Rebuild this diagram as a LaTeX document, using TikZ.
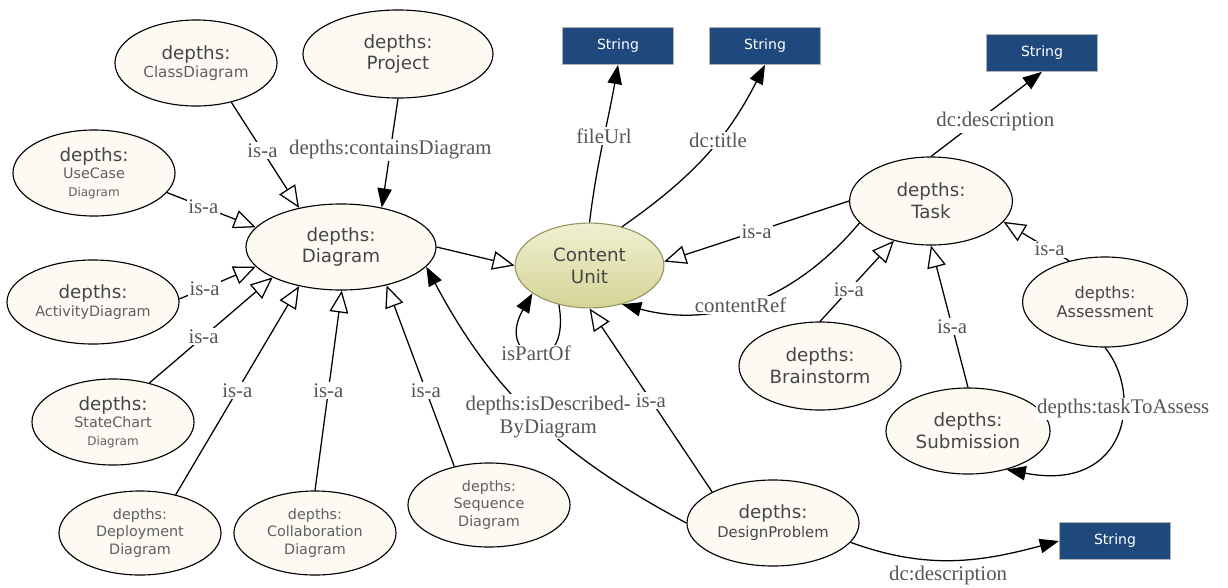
\documentclass[tikz,border=0pt]{standalone}
\usepackage{fontspec}
\setmainfont{Liberation Serif}
\newfontfamily\nodefont{DejaVu Sans}
\usepackage{tikz}
\usetikzlibrary{arrows.meta,shapes.geometric}
\definecolor{cream}{RGB}{252,250,242}
\definecolor{strblue}{RGB}{31,73,125}
\definecolor{cuborder}{RGB}{150,150,100}
\definecolor{cutop}{RGB}{240,240,210}
\definecolor{cubottom}{RGB}{212,212,150}
\definecolor{nametext}{RGB}{70,70,70}
\definecolor{subtext}{RGB}{95,95,95}
\definecolor{labeltext}{RGB}{85,85,85}
\newcommand{\conceptbig}{\fontsize{13}{15.5}\selectfont}
\newcommand{\conceptmid}{\fontsize{10.2}{12.5}\selectfont}
\newcommand{\concepttiny}{\fontsize{8.5}{10}\selectfont}
\newcommand{\edgefont}{\fontsize{14.8}{16.5}\selectfont}

\begin{document}
\begin{tikzpicture}[
  x=0.025cm, y=0.025cm,
  concept/.style={ellipse, draw, line width=0.8pt, fill=cream, text=nametext, font=\nodefont\conceptbig, align=center, inner sep=0pt, minimum width=4.05cm, minimum height=2.15cm},
  dtype/.style={rectangle, draw=gray!60, line width=0.6pt, fill=strblue, text=white, font=\nodefont\fontsize{10}{12}\selectfont, minimum width=2.78cm, minimum height=0.92cm, inner sep=0pt},
  isa/.style={line width=0.9pt, -{Triangle[length=0.55cm, width=0.47cm, fill=white]}},
  prop/.style={line width=0.9pt, -{Triangle[length=0.48cm, width=0.36cm]}},
  lbl/.style={font=\edgefont, text=labeltext, fill=white, inner sep=1pt},
]
  \useasboundingbox (0,0) rectangle (1228,-587);

  \node[concept] (cls) at (196,-63) {depths:\\[-3pt]{\fontsize{10.8}{12.5}\selectfont\color{subtext}ClassDiagram}};
  \node[concept, minimum width=4.75cm, minimum height=2.2cm] (proj) at (398,-54) {depths:\\Project};
  \node[concept] (uc) at (94,-173) {depths:\\[-3pt]{\conceptmid\color{subtext}UseCase}\\[-3pt]{\concepttiny\color{subtext}Diagram}};
  \node[concept, minimum width=4.75cm] (diag) at (341,-247) {depths:\\Diagram};
  \node[concept, minimum width=4.3cm, minimum height=2.1cm] (act) at (93,-302) {depths:\\[-3pt]{\conceptmid\color{subtext}ActivityDiagram}};
  \node[concept] (state) at (113,-422) {depths:\\[-3pt]{\conceptmid\color{subtext}StateChart}\\[-3pt]{\concepttiny\color{subtext}Diagram}};
  \node[concept, minimum height=2.1cm, font=\nodefont\conceptmid, text=subtext] (depl) at (140,-533) {depths:\\Deployment\\Diagram};
  \node[concept, minimum height=2.1cm, font=\nodefont\conceptmid, text=subtext] (collab) at (315,-533) {depths:\\Collaboration\\Diagram};
  \node[concept, minimum height=2.1cm, font=\nodefont\conceptmid, text=subtext] (seq) at (489,-505) {depths:\\Sequence\\Diagram};

  \node[concept, minimum width=3.72cm, minimum height=2.12cm, top color=cutop, bottom color=cubottom, draw=cuborder] (cu) at (589.5,-265.5) {Content\\Unit};

  \node[concept, minimum width=4.07cm, minimum height=2.2cm] (task) at (931,-201) {depths:\\Task};
  \node[concept, minimum height=2.2cm] (brain) at (820,-366) {depths:\\Brainstorm};
  \node[concept, minimum width=4.12cm, minimum height=2.25cm, font=\nodefont\fontsize{11.5}{14}\selectfont] (assess) at (1105,-302) {depths:\\Assessment};
  \node[concept, minimum width=4.1cm] (sub) at (968,-431) {depths:\\Submission};
  \node[concept, minimum width=4.3cm] (dp) at (773,-523) {depths:\\[-2pt]{\fontsize{10.5}{12.5}\selectfont DesignProblem}};

  \node[dtype] (str1) at (618,-46) {String};
  \node[dtype] (str2) at (765,-46) {String};
  \node[dtype] (str3) at (1042,-53) {String};
  \node[dtype] (str4) at (1115,-541) {String};

  \draw[isa] (cls.-48) -- node[lbl, pos=.46] {is-a} (diag.137);
  \draw[prop] (proj.south) -- node[lbl, pos=.47] {depths:containsDiagram} (diag.44);
  \draw[isa] (uc.-15) -- node[lbl, pos=.41] {is-a} (diag.167);
  \draw[isa] (act.2) -- node[lbl, pos=.33] {is-a} (diag.193);
  \draw[isa] (state.47) -- node[lbl, pos=.44] {is-a} (diag.204);
  \draw[isa] (depl.47) -- node[lbl, pos=.5] {is-a} (diag.223);
  \draw[isa] (collab.north) -- node[lbl, pos=.5] {is-a} (diag.-89);
  \draw[isa] (seq.132) -- node[lbl, pos=.42] {is-a} (diag.-40);
  \draw[isa] (diag.east) -- (cu.west);
  \draw[prop] (dp.west) to[out=152, in=-62] node[lbl, align=center, pos=.5, xshift=0.35cm] {depths:isDescribed-\\ByDiagram} (diag.-13);

  \draw[prop] (cu.-128) to[out=-80, in=-120, looseness=7] node[lbl, pos=.5] {isPartOf} (cu.-154);
  \draw[prop] (cu.north) to[out=83, in=-100] node[lbl, pos=.55] {fileUrl} (str1.south);
  \draw[prop] (cu.50) to[out=35, in=-117] node[lbl, pos=.6] {dc:title} (str2.south);

  \draw[isa] (task.west) -- node[lbl, pos=.5] {is-a} (cu.3);
  \draw[prop] (task.-163) to[out=-130, in=-15] node[lbl, pos=.55] {contentRef} (cu.-50);
  \draw[prop] (task.north) -- node[lbl, pos=.41, xshift=0.47cm] {dc:description} (str3.south);
  \draw[isa] (brain.north) -- node[lbl, pos=.39] {is-a} (task.227);
  \draw[isa] (sub.north) -- node[lbl, pos=.43] {is-a} (task.south);
  \draw[isa] (assess.131) -- node[lbl, pos=.3] {is-a} (task.-16);
  \draw[prop] (assess.south) to[out=-51, in=-11, out looseness=1, in looseness=2] node[lbl, pos=.35] {depths:taskToAssess} (sub.-45);

  \draw[isa] (dp.153) -- node[lbl, pos=.5] {is-a} (cu.south);
  \draw[prop] (dp.-14) to[out=-20, in=195] node[lbl, pos=.47, yshift=-0.38cm] {dc:description} (str4.west);
\end{tikzpicture}
\end{document}
